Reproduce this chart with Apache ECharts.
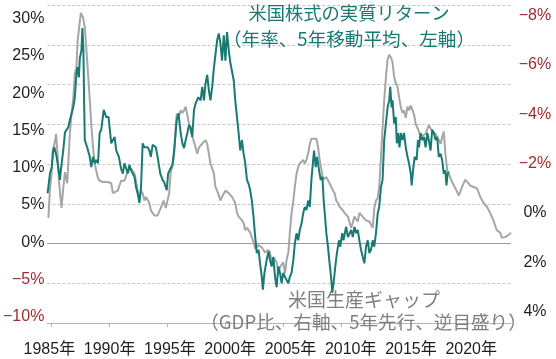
<!DOCTYPE html>
<html>
<head>
<meta charset="utf-8">
<script src="https://cdn.jsdelivr.net/npm/echarts@6/dist/echarts.min.js"></script>
<style>
html,body{margin:0;padding:0;background:#fff;}
#c{width:556px;height:359px;}
</style>
</head>
<body>
<div id="c"></div>
<script>
// 米国株式の実質リターン（年率、5年移動平均、左軸）
const tealYears = [1984.67,1984.88,1985.02,1985.16,1985.25,1985.45,1985.74,1985.81,1986.02,1986.17,1986.45,1986.59,1986.88,1987.02,1987.16,1987.25,1987.37,1987.45,1987.59,1987.67,1987.76,1987.82,1987.88,1988.08,1988.31,1988.44,1988.59,1988.74,1988.87,1989.02,1989.16,1989.30,1989.51,1989.73,1989.93,1990.02,1990.16,1990.45,1990.59,1990.82,1991.01,1991.16,1991.30,1991.59,1991.73,1991.87,1992.16,1992.30,1992.44,1992.59,1992.73,1992.87,1993.02,1993.30,1993.45,1993.58,1993.73,1994.01,1994.16,1994.39,1994.59,1994.73,1994.95,1995.07,1995.30,1995.44,1995.59,1995.81,1995.96,1996.15,1996.30,1996.44,1996.58,1996.73,1996.87,1997.01,1997.15,1997.30,1997.44,1997.67,1997.87,1998.01,1998.16,1998.29,1998.44,1998.58,1998.72,1998.87,1999.01,1999.15,1999.30,1999.44,1999.58,1999.72,1999.87,2000.01,2000.15,2000.30,2000.44,2000.58,2000.73,2000.86,2001.01,2001.15,2001.29,2001.44,2001.58,2001.72,2001.87,2002.01,2002.15,2002.29,2002.44,2002.58,2002.72,2002.87,2003.00,2003.15,2003.24,2003.38,2003.58,2003.73,2003.86,2004.00,2004.15,2004.29,2004.43,2004.58,2004.72,2004.86,2005.00,2005.15,2005.29,2005.44,2005.57,2005.72,2005.87,2006.00,2006.15,2006.29,2006.43,2006.58,2006.72,2006.86,2007.00,2007.15,2007.29,2007.43,2007.58,2007.66,2007.80,2007.92,2008.09,2008.23,2008.38,2008.49,2008.61,2008.72,2008.86,2009.00,2009.15,2009.23,2009.34,2009.49,2009.63,2009.81,2009.92,2010.09,2010.20,2010.37,2010.43,2010.58,2010.86,2011.00,2011.14,2011.29,2011.43,2011.57,2011.71,2011.86,2012.00,2012.14,2012.29,2012.43,2012.57,2012.72,2012.85,2013.00,2013.15,2013.28,2013.43,2013.57,2013.71,2013.86,2014.00,2014.14,2014.23,2014.35,2014.43,2014.57,2014.71,2014.80,2014.91,2015.03,2015.14,2015.29,2015.42,2015.57,2015.72,2015.85,2016.00,2016.08,2016.23,2016.34,2016.51,2016.62,2016.71,2016.85,2017.00,2017.14,2017.28,2017.43,2017.56,2017.71,2017.85,2018.00,2018.14,2018.28,2018.42,2018.57,2018.71,2018.85,2018.99,2019.08,2019.19,2019.28];
const tealValues = [6.3,8.9,9.5,11.7,12.1,10.9,8.0,9.2,11.7,14.0,14.6,15.5,17.1,18.4,21.4,22.2,20.9,23.3,24.3,27.1,24.3,18.0,13.0,12.1,10.9,9.6,10.9,10.1,10.5,10.1,13.9,14.3,16.8,15.9,15.9,14.6,12.6,13.4,11.7,10.9,9.4,8.8,10.1,8.8,9.9,9.2,8.4,7.1,6.3,5.1,7.1,12.6,12.1,12.1,11.7,10.9,12.4,12.1,10.9,8.8,8.0,7.7,6.7,8.8,9.5,9.9,11.7,15.5,16.4,13.9,12.6,12.0,13.0,13.9,14.9,14.6,13.4,16.8,17.6,18.4,18.0,19.7,18.0,20.1,21.2,19.3,18.0,19.7,22.0,22.2,25.6,26.4,25.2,23.0,26.2,23.0,26.6,24.3,22.7,22.7,20.5,18.0,15.9,13.9,11.7,13.0,11.3,10.1,8.0,7.5,6.7,5.4,3.3,0.8,-1.2,-0.8,-2.5,-4.2,-5.8,-3.7,-2.0,-1.0,-2.1,-2.9,-1.7,-4.2,-5.5,-2.9,-3.7,-5.0,-3.7,-4.2,-4.6,-5.0,-4.2,-3.7,-2.1,0.0,1.3,0.4,1.7,2.5,3.8,4.6,4.2,5.4,4.6,8.0,10.5,11.7,9.6,10.9,9.2,8.0,8.4,5.4,3.3,1.3,-0.4,-2.5,-4.6,-6.2,-5.0,-2.9,-1.2,0.4,-0.4,1.3,0.4,1.7,2.1,0.8,1.7,0.8,2.1,1.3,1.7,0.4,-0.8,-1.7,-2.5,-0.4,0.4,-1.2,-0.8,0.4,-0.4,1.3,3.8,4.6,7.1,8.0,13.0,15.1,17.1,18.0,19.7,17.1,18.0,15.1,15.9,12.6,13.9,12.1,13.9,13.0,13.9,12.1,10.9,10.1,8.8,7.3,9.6,10.9,10.5,13.0,12.1,13.9,13.0,13.4,12.1,13.9,13.0,11.7,14.3,13.9,13.0,13.4,10.9,11.3,10.5,8.8,9.2,7.3,8.8,9.0];

// 米国生産ギャップ（GDP比、右軸、5年先行、逆目盛り）
const gapYears = [1984.74,1984.88,1985.02,1985.10,1985.31,1985.40,1985.51,1985.65,1985.87,1986.02,1986.17,1986.36,1986.59,1986.73,1986.88,1987.02,1987.16,1987.25,1987.39,1987.54,1987.73,1987.88,1988.02,1988.16,1988.31,1988.44,1988.59,1988.74,1988.87,1989.02,1989.16,1989.45,1989.87,1990.16,1990.30,1990.45,1990.73,1991.01,1991.30,1991.59,1991.87,1992.16,1992.30,1992.44,1992.59,1992.73,1992.87,1993.02,1993.15,1993.45,1993.58,1993.87,1994.16,1994.44,1994.67,1994.87,1995.16,1995.30,1995.44,1995.59,1995.72,1995.81,1996.02,1996.15,1996.30,1996.44,1996.58,1996.73,1996.87,1997.01,1997.15,1997.44,1997.59,1997.73,1998.01,1998.29,1998.44,1998.72,1999.01,1999.15,1999.30,1999.58,1999.72,2000.01,2000.30,2000.58,2000.86,2001.01,2001.15,2001.44,2001.58,2001.72,2001.87,2002.15,2002.44,2002.58,2002.87,2003.15,2003.43,2003.72,2003.86,2004.00,2004.15,2004.43,2004.58,2004.72,2005.00,2005.15,2005.29,2005.44,2005.57,2005.72,2005.87,2006.00,2006.15,2006.29,2006.43,2006.72,2006.86,2007.00,2007.15,2007.29,2007.43,2007.58,2007.86,2008.01,2008.14,2008.29,2008.43,2008.57,2008.72,2009.00,2009.15,2009.29,2009.43,2009.57,2009.72,2009.86,2010.00,2010.15,2010.29,2010.58,2010.86,2011.00,2011.14,2011.43,2011.57,2011.86,2012.14,2012.43,2012.72,2012.86,2013.00,2013.15,2013.28,2013.43,2013.57,2013.71,2013.86,2014.00,2014.14,2014.28,2014.43,2014.57,2014.71,2014.86,2014.99,2015.14,2015.29,2015.42,2015.57,2015.72,2015.85,2016.00,2016.14,2016.28,2016.43,2016.57,2016.71,2016.85,2017.00,2017.28,2017.56,2017.85,2018.00,2018.14,2018.42,2018.57,2018.71,2018.85,2018.99,2019.14,2019.28,2019.42,2019.57,2019.85,2020.14,2020.43,2020.71,2020.85,2021.14,2021.43,2021.71,2022.00,2022.28,2022.57,2022.85,2023.13,2023.42,2023.71,2023.86,2024.13,2024.42,2024.65];
const gapValues = [0.2,-1.0,-1.6,-2.5,-2.9,-3.2,-2.5,-1.3,-0.2,-1.0,-1.65,-1.2,-3.2,-4.0,-4.6,-5.65,-5.9,-6.9,-7.5,-8.1,-7.9,-7.5,-6.6,-5.65,-4.55,-3.6,-2.65,-2.0,-1.7,-1.4,-1.3,-1.25,-1.25,-1.2,-0.8,-0.85,-0.9,-1.3,-1.3,-1.7,-1.8,-1.6,-1.3,-0.9,-0.5,-0.9,-0.8,-0.5,-0.65,-0.4,-0.1,0.1,0.1,-0.2,-0.5,-0.2,-0.8,-1.7,-1.85,-2.4,-3.5,-4.0,-3.95,-4.15,-4.05,-4.15,-4.3,-3.95,-3.6,-3.35,-3.1,-2.65,-2.4,-2.65,-2.8,-2.95,-2.8,-2.0,-1.6,-1.05,-0.9,-0.5,-0.65,-0.9,-0.8,-0.65,-0.4,0.0,0.15,0.3,0.4,0.7,0.6,0.8,1.2,1.45,1.3,1.4,1.6,1.5,1.6,2.0,1.8,2.0,2.45,2.2,2.0,2.45,1.9,1.6,0.8,0.0,-0.5,-1.05,-1.6,-1.85,-2.0,-2.15,-2.0,-2.15,-2.4,-2.8,-3.0,-3.05,-3.0,-2.65,-2.15,-1.75,-1.35,-1.35,-1.45,-1.2,-1.05,-0.9,-0.8,-0.5,-0.4,-0.25,-0.3,-0.1,0.0,0.15,0.6,0.4,0.15,0.35,0.0,0.15,0.3,0.35,0.6,-0.2,-0.5,-0.6,-1.05,-2.25,-3.45,-4.55,-5.5,-6.2,-6.4,-6.3,-6.1,-5.5,-5.25,-5.1,-4.7,-4.3,-4.05,-4.15,-3.85,-4.3,-4.15,-4.35,-4.3,-4.0,-3.6,-3.45,-3.45,-3.1,-3.05,-3.2,-3.55,-3.3,-3.35,-3.2,-2.95,-2.8,-3.05,-3.3,-2.4,-1.75,-1.6,-1.55,-1.25,-1.0,-0.7,-1.05,-1.35,-1.35,-1.1,-1.05,-1.0,-0.65,-0.4,-0.25,0.0,0.3,0.7,0.8,1.0,0.98,0.9,0.8];

// tick labels
const xTickYears = [1985,1990,1995,2000,2005,2010,2015,2020];
const leftTicks = [-10,-5,0,5,10,15,20,25,30];
const rightTicks = [-8,-6,-4,-2,0,2,4];

const TEAL = '#187a72';
const GRAYLINE = '#a6a6a6';
const GRAYTEXT = '#7f7f7f';
const RED = '#9e2b2f';
const BLACK = '#1e1e1e';
const LABEL_FONT = "'Liberation Sans','Noto Sans CJK JP',sans-serif";
const JP_FONT = "'Noto Sans CJK JP',sans-serif";

const fmtPct = v => (v < 0 ? '\u2212' + Math.abs(v) : String(v)) + '%';

const chart = echarts.init(document.getElementById('c'), null, {renderer: 'canvas'});
chart.setOption({
  animation: false,
  backgroundColor: '#fff',
  grid: {left: 44, right: 45, top: 5, height: 318, containLabel: false},
  xAxis: [
    {
      type: 'value', min: 1984.65, max: 2024.65, position: 'bottom',
      axisLine: {show: true, onZero: false, lineStyle: {color: '#b4b4b4', width: 1}},
      axisTick: {show: true, customValues: xTickYears, length: 4, lineStyle: {color: '#b4b4b4'}},
      axisLabel: {show: false},
      splitLine: {show: false}
    },
    {
      type: 'value', min: 1984.835, max: 2023.30, position: 'bottom', offset: 0,
      axisLine: {show: false, onZero: false},
      axisTick: {show: false},
      axisLabel: {
        show: true, customValues: xTickYears, margin: 19,
        fontSize: 16, color: BLACK, fontFamily: LABEL_FONT,
        formatter: v => v + '年'
      },
      splitLine: {show: false}
    }
  ],
  yAxis: [
    {
      type: 'value', min: -10, max: 30, interval: 5, position: 'left',
      axisLine: {show: false}, axisTick: {show: false}, axisLabel: {show: false},
      splitLine: {show: true, lineStyle: {color: '#c4c4c4', type: [3, 2], width: 1}}
    },
    {
      type: 'value', inverse: true, min: -8.417, max: 4.457, position: 'right',
      axisLine: {show: false}, axisTick: {show: false}, splitLine: {show: false},
      axisLabel: {
        show: true, customValues: rightTicks, align: 'center', margin: 24,
        fontSize: 16, fontFamily: LABEL_FONT, formatter: fmtPct,
        color: v => (Number(v) < 0 ? RED : BLACK)
      }
    },
    {
      type: 'value', min: -10.84, max: 31.82, position: 'left', offset: 0,
      axisLine: {show: false}, axisTick: {show: false}, splitLine: {show: false},
      axisLabel: {
        show: true, customValues: leftTicks, margin: 3,
        fontSize: 16, fontFamily: LABEL_FONT, formatter: fmtPct,
        color: v => (Number(v) < 0 ? RED : BLACK)
      }
    }
  ],
  series: [
    {
      name: '米国生産ギャップ', type: 'line', xAxisIndex: 0, yAxisIndex: 1,
      data: gapYears.map((y, i) => [y, gapValues[i]]),
      showSymbol: false, smooth: false, z: 2,
      lineStyle: {color: GRAYLINE, width: 2}
    },
    {
      name: '米国株式の実質リターン', type: 'line', xAxisIndex: 0, yAxisIndex: 0,
      data: tealYears.map((y, i) => [y, tealValues[i]]),
      showSymbol: false, smooth: false, z: 3,
      lineStyle: {color: TEAL, width: 2},
      markLine: {
        silent: true, symbol: 'none', label: {show: false},
        lineStyle: {color: '#9a9a9a', type: 'solid', width: 1},
        data: [{yAxis: 0}], z: 1
      }
    }
  ],
  graphic: [
    {type: 'text', x: 349, y: 13, z: 100, style: {text: '米国株式の実質リターン', fill: TEAL, font: '18.3px ' + JP_FONT, textAlign: 'center', textVerticalAlign: 'middle'}},
    {type: 'text', x: 349, y: 38.5, z: 100, style: {text: '（年率、5年移動平均、左軸）', fill: TEAL, font: '18.6px ' + JP_FONT, textAlign: 'center', textVerticalAlign: 'middle'}},
    {type: 'text', x: 364, y: 300, z: 100, style: {text: '米国生産ギャップ', fill: GRAYTEXT, font: '19px ' + JP_FONT, textAlign: 'center', textVerticalAlign: 'middle'}},
    {type: 'text', x: 363.5, y: 321.5, z: 100, style: {text: '（GDP比、右軸、5年先行、逆目盛り）', fill: GRAYTEXT, font: '18.6px ' + JP_FONT, textAlign: 'center', textVerticalAlign: 'middle'}}
  ]
});
</script>
</body>
</html>
